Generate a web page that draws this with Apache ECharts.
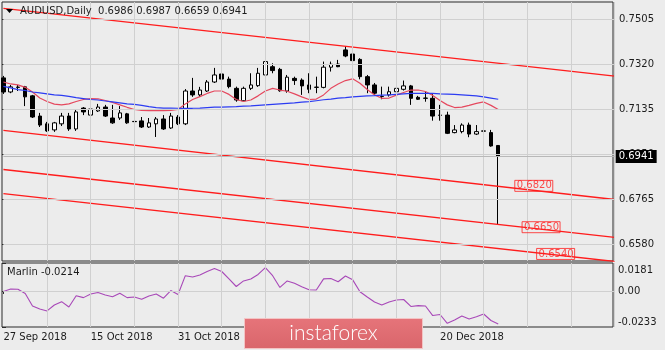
<!DOCTYPE html>
<html>
<head>
<meta charset="utf-8">
<script src="https://cdn.jsdelivr.net/npm/echarts@6/dist/echarts.min.js"></script>
<style>
  html, body { margin: 0; padding: 0; background: #ececec; }
  #chart { width: 665px; height: 350px; }
</style>
</head>
<body>
<div id="chart"></div>
<script>
// AUDUSD daily bars, 27 Sep 2018 - 3 Jan 2019
const dates = [
  '27 Sep 2018', '28 Sep 2018', '1 Oct 2018', '2 Oct 2018', '3 Oct 2018', '4 Oct 2018', '5 Oct 2018',
  '8 Oct 2018', '9 Oct 2018', '10 Oct 2018', '11 Oct 2018', '12 Oct 2018', '15 Oct 2018', '16 Oct 2018',
  '17 Oct 2018', '18 Oct 2018', '19 Oct 2018', '22 Oct 2018', '23 Oct 2018', '24 Oct 2018', '25 Oct 2018',
  '26 Oct 2018', '29 Oct 2018', '30 Oct 2018', '31 Oct 2018', '1 Nov 2018', '2 Nov 2018', '5 Nov 2018',
  '6 Nov 2018', '7 Nov 2018', '8 Nov 2018', '9 Nov 2018', '12 Nov 2018', '13 Nov 2018', '14 Nov 2018',
  '15 Nov 2018', '16 Nov 2018', '19 Nov 2018', '20 Nov 2018', '21 Nov 2018', '22 Nov 2018', '23 Nov 2018',
  '26 Nov 2018', '27 Nov 2018', '28 Nov 2018', '29 Nov 2018', '30 Nov 2018', '3 Dec 2018', '4 Dec 2018',
  '5 Dec 2018', '6 Dec 2018', '7 Dec 2018', '10 Dec 2018', '11 Dec 2018', '12 Dec 2018', '13 Dec 2018',
  '14 Dec 2018', '17 Dec 2018', '18 Dec 2018', '19 Dec 2018', '20 Dec 2018', '21 Dec 2018', '24 Dec 2018',
  '26 Dec 2018', '27 Dec 2018', '28 Dec 2018', '31 Dec 2018', '2 Jan 2019', '3 Jan 2019'
];
// empty slots to the right of the last bar
const futureDates = [
  '4 Jan 2019', '7 Jan 2019', '8 Jan 2019', '9 Jan 2019', '10 Jan 2019', '11 Jan 2019', '14 Jan 2019',
  '15 Jan 2019', '16 Jan 2019', '17 Jan 2019', '18 Jan 2019', '21 Jan 2019', '22 Jan 2019', '23 Jan 2019',
  '24 Jan 2019', '25 Jan 2019'
];

const opens = [
  0.7264, 0.7206, 0.7226, 0.7227, 0.7190, 0.7107, 0.7075, 0.7050, 0.7075, 0.7107,
  0.7054, 0.7140, 0.7111, 0.7128, 0.7144, 0.7099, 0.7099, 0.7116, 0.7085, 0.7087,
  0.7062, 0.7075, 0.7095, 0.7058, 0.7103, 0.7075, 0.7210, 0.7194, 0.7210, 0.7247,
  0.7280, 0.7259, 0.7221, 0.7170, 0.7221, 0.7232, 0.7276, 0.7310, 0.7299, 0.7210,
  0.7262, 0.7255, 0.7235, 0.7226, 0.7225, 0.7308, 0.7321, 0.7379, 0.7362, 0.7340,
  0.7269, 0.7235, 0.7188, 0.7194, 0.7207, 0.7217, 0.7231, 0.7184, 0.7181, 0.7180,
  0.7111, 0.7111, 0.7039, 0.7043, 0.7070, 0.7033, 0.7046, 0.7039, 0.6986
];
const highs = [
  0.7272, 0.7235, 0.7235, 0.7231, 0.7194, 0.7120, 0.7083, 0.7083, 0.7120, 0.7120,
  0.7132, 0.7144, 0.7153, 0.7157, 0.7153, 0.7153, 0.7148, 0.7120, 0.7099, 0.7103,
  0.7099, 0.7103, 0.7111, 0.7120, 0.7111, 0.7218, 0.7264, 0.7227, 0.7255, 0.7305,
  0.7304, 0.7269, 0.7228, 0.7228, 0.7283, 0.7305, 0.7338, 0.7324, 0.7305, 0.7276,
  0.7269, 0.7262, 0.7283, 0.7269, 0.7331, 0.7331, 0.7338, 0.7395, 0.7395, 0.7345,
  0.7276, 0.7243, 0.7228, 0.7228, 0.7235, 0.7253, 0.7235, 0.7190, 0.7207, 0.7201,
  0.7153, 0.7125, 0.7070, 0.7077, 0.7080, 0.7070, 0.7080, 0.7050, 0.6987
];
const lows = [
  0.7198, 0.7201, 0.7210, 0.7148, 0.7099, 0.7062, 0.7042, 0.7042, 0.7066, 0.7046,
  0.7046, 0.7111, 0.7103, 0.7124, 0.7103, 0.7075, 0.7091, 0.7075, 0.7050, 0.7058,
  0.7058, 0.7021, 0.7050, 0.7054, 0.7070, 0.7070, 0.7186, 0.7186, 0.7206, 0.7243,
  0.7248, 0.7221, 0.7166, 0.7166, 0.7214, 0.7227, 0.7248, 0.7283, 0.7207, 0.7203,
  0.7235, 0.7194, 0.7201, 0.7201, 0.7221, 0.7290, 0.7308, 0.7349, 0.7310, 0.7258,
  0.7201, 0.7194, 0.7176, 0.7187, 0.7201, 0.7212, 0.7153, 0.7173, 0.7166, 0.7088,
  0.7088, 0.7033, 0.7036, 0.7036, 0.7020, 0.7029, 0.7036, 0.6981, 0.6659
];
const closes = [
  0.7206, 0.7227, 0.7225, 0.7186, 0.7103, 0.7070, 0.7046, 0.7079, 0.7107, 0.7054,
  0.7124, 0.7124, 0.7136, 0.7144, 0.7107, 0.7079, 0.7120, 0.7079, 0.7084, 0.7062,
  0.7079, 0.7095, 0.7054, 0.7107, 0.7075, 0.7210, 0.7194, 0.7214, 0.7247, 0.7276,
  0.7259, 0.7228, 0.7173, 0.7221, 0.7235, 0.7283, 0.7331, 0.7294, 0.7211, 0.7267,
  0.7253, 0.7231, 0.7217, 0.7225, 0.7308, 0.7320, 0.7310, 0.7354, 0.7335, 0.7269,
  0.7235, 0.7201, 0.7187, 0.7207, 0.7221, 0.7231, 0.7180, 0.7176, 0.7180, 0.7107,
  0.7110, 0.7036, 0.7050, 0.7070, 0.7033, 0.7043, 0.7045, 0.6984, 0.6941
];

// moving averages drawn over the bars
const fastMA = [
  0.7247, 0.7239, 0.7235, 0.7225, 0.7206, 0.7181, 0.7167, 0.7156, 0.7153, 0.7157,
  0.7167, 0.7175, 0.7179, 0.7178, 0.7171, 0.7163, 0.7153, 0.7143, 0.7134, 0.7130,
  0.7129, 0.7129, 0.7129, 0.7130, 0.7134, 0.7157, 0.7175, 0.7187, 0.7200, 0.7210,
  0.7210, 0.7196, 0.7175, 0.7167, 0.7173, 0.7190, 0.7210, 0.7221, 0.7214, 0.7209,
  0.7198, 0.7186, 0.7175, 0.7177, 0.7194, 0.7221, 0.7239, 0.7253, 0.7260, 0.7242,
  0.7216, 0.7194, 0.7180, 0.7181, 0.7193, 0.7204, 0.7214, 0.7214, 0.7208, 0.7192,
  0.7171, 0.7153, 0.7142, 0.7144, 0.7151, 0.7159, 0.7165, 0.7151, 0.7134
];
const slowMA = [
  0.7229, 0.7223, 0.7216, 0.7212, 0.7206, 0.7202, 0.7198, 0.7194, 0.7192, 0.7188,
  0.7183, 0.7179, 0.7175, 0.7173, 0.7169, 0.7165, 0.7161, 0.7157, 0.7155, 0.7151,
  0.7146, 0.7142, 0.7140, 0.7140, 0.7139, 0.7139, 0.7139, 0.7140, 0.7142, 0.7144,
  0.7144, 0.7145, 0.7146, 0.7148, 0.7149, 0.7151, 0.7153, 0.7155, 0.7157, 0.7159,
  0.7161, 0.7164, 0.7166, 0.7170, 0.7174, 0.7177, 0.7181, 0.7183, 0.7186, 0.7188,
  0.7190, 0.7191, 0.7193, 0.7194, 0.7196, 0.7198, 0.7200, 0.7200, 0.7200, 0.7200,
  0.7198, 0.7197, 0.7196, 0.7194, 0.7192, 0.7190, 0.7186, 0.7181, 0.7176
];

// Marlin oscillator
const marlin = [
  -0.0003, 0.0013, 0.0011, -0.0016, -0.0097, -0.0117, -0.0129, -0.0091, -0.0069, -0.0104,
  -0.0031, -0.0043, -0.0020, -0.0010, -0.0026, -0.0037, -0.0015, -0.0043, -0.0039, -0.0054,
  -0.0032, -0.0020, -0.0047, 0.0003, -0.0023, 0.0099, 0.0090, 0.0103, 0.0126, 0.0145,
  0.0126, 0.0078, 0.0029, 0.0065, 0.0078, 0.0107, 0.0151, 0.0099, 0.0023, 0.0065,
  0.0050, 0.0028, 0.0008, 0.0006, 0.0078, 0.0081, 0.0060, 0.0097, 0.0072, -0.0005,
  -0.0039, -0.0071, -0.0091, -0.0071, -0.0058, -0.0055, -0.0100, -0.0095, -0.0097, -0.0159,
  -0.0152, -0.0209, -0.0188, -0.0162, -0.0181, -0.0167, -0.0149, -0.0191, -0.0214
];

// price scale and oscillator scale
const priceMin = 0.6511, priceMax = 0.7576;
const priceTicks = [0.6580, 0.6765, 0.6950, 0.7135, 0.7320, 0.7505];
const marlinMin = -0.0233, marlinMax = 0.0181;
const marlinTicks = [-0.0233, 0, 0.0181];

// descending channel lines: price at the first slot and at the last slot
const channelTop = [0.7550, 0.7271];
const channelMid = [0.7048, 0.6764];
const channelLow = [0.6887, 0.6608];
const channelBottom = [0.6788, 0.6509];

// target levels and the day each tag is pinned to
const levelValues = [0.6820, 0.6650, 0.6540];
const levelDates = ['7 Jan 2019', '8 Jan 2019', '10 Jan 2019'];

const symbolName = 'AUDUSD,Daily';
const oscName = 'Marlin';

// ---------------------------------------------------------------------------
const FONT = 'DejaVu Sans';
const TXT = '#1c1c1c';
const FRAME = '#2b2b2b';
const GRID_COLOR = '#d0d0d0';

const allDates = dates.concat(futureDates);
const slotCount = allDates.length;
const last = closes.length - 1;
const candles = opens.map((o, i) => [o, closes[i], lows[i], highs[i]]);
const every12 = (i) => i % 12 === 0 && i <= last;
const fmt4 = (v) => Number(v).toFixed(4);
// time grid: one guide line every sixth slot
const gridDates = allDates.filter((d, i) => i % 6 === 0 && i > 0);

const chart = echarts.init(document.getElementById('chart'), null, { renderer: 'canvas' });

const channelSeries = (pts) => ({
  type: 'line', xAxisIndex: 1, yAxisIndex: 1, symbol: 'none', silent: true, z: 3,
  lineStyle: { color: '#ff1c1c', width: 1.4 },
  data: [[allDates[0], pts[0]], [allDates[slotCount - 1], pts[1]]]
});

// light guide lines, drawn as the bottom layer of a pane
const guideSeries = (xi, yi, levels) => ({
  type: 'line', xAxisIndex: xi, yAxisIndex: yi, symbol: 'none', silent: true, z: 1,
  lineStyle: { opacity: 0 },
  data: [[allDates[0], levels[0]], [allDates[1], levels[0]]],
  markLine: {
    silent: true, symbol: 'none', animation: false, precision: 4,
    label: { show: false },
    lineStyle: { color: GRID_COLOR, type: 'solid', width: 1, opacity: 1 },
    data: gridDates.map((d) => ({ xAxis: d })).concat(levels.map((v) => ({ yAxis: v })))
  }
});

const BAR_STEP = 7.277;
const plotW = BAR_STEP * (slotCount - 1);

chart.setOption({
  animation: false,
  backgroundColor: '#ececec',
  textStyle: { fontFamily: FONT },
  grid: [
    { left: 2, top: 2, width: 611, height: 259, show: true, borderColor: FRAME, borderWidth: 1, backgroundColor: 'rgba(0,0,0,0)' },
    { left: 3.4, top: 2, width: plotW, height: 259, show: false },
    { left: 2, top: 263, width: 611, height: 64, show: true, borderColor: FRAME, borderWidth: 1, backgroundColor: 'rgba(0,0,0,0)' },
    { left: 3.4, top: 263, width: plotW, height: 64, show: false }
  ],
  xAxis: [
    { gridIndex: 0, type: 'value', min: 0, max: 1, show: false },
    {
      gridIndex: 1, type: 'category', data: allDates, boundaryGap: false,
      axisLine: { show: false }, axisTick: { show: false }, axisLabel: { show: false },
      splitLine: { show: false }
    },
    { gridIndex: 2, type: 'value', min: 0, max: 1, show: false },
    {
      gridIndex: 3, type: 'category', data: allDates, boundaryGap: false,
      axisLine: { show: false },
      axisTick: { show: true, interval: every12, length: 3, lineStyle: { color: FRAME } },
      axisLabel: {
        interval: every12, align: 'left', margin: 5,
        fontFamily: FONT, fontSize: 10, color: TXT
      },
      splitLine: { show: false }
    }
  ],
  yAxis: [
    {
      gridIndex: 0, type: 'value', position: 'right', min: priceMin, max: priceMax,
      axisLine: { show: false },
      axisTick: { show: true, length: 4, customValues: priceTicks, lineStyle: { color: FRAME } },
      axisLabel: {
        customValues: priceTicks, formatter: fmt4, margin: 6,
        fontFamily: FONT, fontSize: 10, color: TXT
      },
      splitLine: { show: false }
    },
    { gridIndex: 1, type: 'value', min: priceMin, max: priceMax, show: false, splitLine: { show: false } },
    {
      gridIndex: 2, type: 'value', position: 'right', min: marlinMin, max: marlinMax,
      axisLine: { show: false },
      axisTick: { show: true, length: 4, customValues: marlinTicks, lineStyle: { color: FRAME } },
      axisLabel: {
        customValues: marlinTicks, margin: 5,
        fontFamily: FONT, fontSize: 10, color: TXT,
        formatter: (v) => {
          if (Math.abs(v - marlinMax) < 1e-9) return '{t|' + fmt4(v) + '}';
          if (Math.abs(v - marlinMin) < 1e-9) return '{b|' + fmt4(v) + '}';
          return '{m|0.00}';
        },
        rich: {
          t: { padding: [14, 0, 0, 0], fontFamily: FONT, fontSize: 10, color: TXT },
          b: { padding: [0, 0, 10, 0], fontFamily: FONT, fontSize: 10, color: TXT },
          m: { fontFamily: FONT, fontSize: 10, color: TXT }
        }
      },
      splitLine: { show: false }
    },
    { gridIndex: 3, type: 'value', min: marlinMin, max: marlinMax, show: false, splitLine: { show: false } }
  ],
  series: [
    guideSeries(1, 1, priceTicks),
    guideSeries(3, 3, [0]),
    channelSeries(channelTop),
    channelSeries(channelMid),
    channelSeries(channelLow),
    channelSeries(channelBottom),
    {
      type: 'candlestick', xAxisIndex: 1, yAxisIndex: 1, z: 2,
      barWidth: 4,
      itemStyle: {
        color: '#ffffff', color0: '#000000',
        borderColor: '#000000', borderColor0: '#000000', borderColorDoji: '#000000',
        borderWidth: 1
      },
      data: candles,
      markLine: {
        silent: true, symbol: 'none', animation: false, precision: 4,
        lineStyle: { color: '#b8b8b8', type: 'solid', width: 1 },
        label: {
          position: 'end', distance: 1,
          formatter: (p) => fmt4(p.value),
          backgroundColor: '#000000', color: '#ffffff',
          padding: [2, 3, 1, 3], fontFamily: FONT, fontSize: 10
        },
        data: [{ yAxis: closes[last] }]
      }
    },
    {
      type: 'line', xAxisIndex: 1, yAxisIndex: 1, symbol: 'none', silent: true, z: 4,
      lineStyle: { color: '#e5485e', width: 1.2 },
      data: fastMA
    },
    {
      type: 'line', xAxisIndex: 1, yAxisIndex: 1, symbol: 'none', silent: true, z: 4,
      lineStyle: { color: '#2c3cf2', width: 1.2 },
      data: slowMA
    },
    {
      type: 'scatter', xAxisIndex: 1, yAxisIndex: 1, symbolSize: 0, silent: true, z: 5,
      data: levelDates.map((d, k) => [d, levelValues[k]]),
      label: {
        show: true, position: 'right', distance: 2,
        formatter: (p) => fmt4(p.value[1]),
        color: '#ff2020', borderColor: '#ff2020', borderWidth: 1,
        padding: [1, 1, 0, 2], fontFamily: FONT, fontSize: 10
      }
    },
    {
      type: 'line', xAxisIndex: 3, yAxisIndex: 3, symbol: 'none', silent: true, z: 3,
      lineStyle: { color: '#a848b8', width: 1.1 },
      data: marlin
    }
  ],
  graphic: [
    {
      type: 'polygon', z: 50,
      shape: { points: [[6, 9], [13, 9], [9.5, 13]] },
      style: { fill: '#000000' }
    },
    {
      type: 'text', z: 50, left: 20, top: 6,
      style: {
        text: symbolName + '  ' + [opens[last], highs[last], lows[last], closes[last]].map(fmt4).join(' '),
        font: '10px "DejaVu Sans"', fill: TXT
      }
    },
    {
      type: 'text', z: 50, left: 7, top: 267,
      style: {
        text: oscName + ' ' + fmt4(marlin[last]),
        font: '10px "DejaVu Sans"', fill: TXT
      }
    },
    {
      type: 'group', z: 100, left: 244, top: 318,
      children: [
        {
          type: 'rect', z: 100,
          shape: { x: 0, y: 0, width: 178, height: 30 },
          style: {
            fill: new echarts.graphic.LinearGradient(0, 0, 0, 1, [
              { offset: 0, color: '#e6747a' }, { offset: 1, color: '#d9666b' }
            ]),
            stroke: '#f3c4c4', lineWidth: 1
          }
        },
        {
          type: 'text', z: 101, x: 89, y: 15,
          style: {
            text: 'instaforex', fill: '#ffffff',
            font: '300 21px Lato', align: 'center', verticalAlign: 'middle'
          }
        }
      ]
    }
  ]
});
</script>
</body>
</html>
